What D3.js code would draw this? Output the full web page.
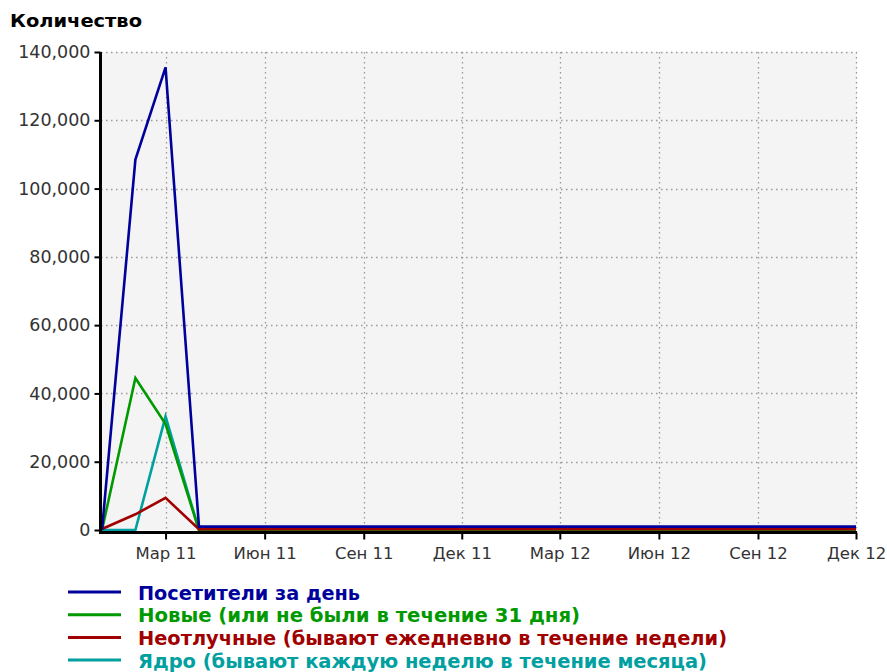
<!DOCTYPE html>
<html>
<head>
<meta charset="utf-8">
<script src="https://cdn.jsdelivr.net/npm/d3@7"></script>
<style>
  html, body { margin: 0; padding: 0; background: #fff; }
  svg { display: block; }
</style>
</head>
<body>
<svg id="chart" width="887" height="672"></svg>
<script>
// ---- data ----
const months = ["2011-01","2011-02","2011-03","2011-04","2011-05","2011-06","2011-07","2011-08","2011-09","2011-10","2011-11","2011-12",
                "2012-01","2012-02","2012-03","2012-04","2012-05","2012-06","2012-07","2012-08","2012-09","2012-10","2012-11","2012-12"];
const visitors = [0, 108500, 135500, 1000, 1000, 1000, 1000, 1000, 1000, 1000, 1000, 1000, 1000, 1000, 1000, 1000, 1000, 1000, 1000, 1000, 1000, 1000, 1000, 1000];
const newVisitors = [0, 44500, 31000, 0, 0, 0, 0, 0, 0, 0, 0, 0, 0, 0, 0, 0, 0, 0, 0, 0, 0, 0, 0, 0];
const loyal = [300, 4600, 9400, 250, 250, 250, 250, 250, 250, 250, 250, 250, 250, 250, 250, 250, 250, 250, 250, 250, 250, 250, 250, 250];
const core = [0, 0, 33300, 0, 0, 0, 0, 0, 0, 0, 0, 0, 0, 0, 0, 0, 0, 0, 0, 0, 0, 0, 0, 0];
const seriesNames = ["Посетители за день", "Новые (или не были в течение 31 дня)", "Неотлучные (бывают ежедневно в течение недели)", "Ядро (бывают каждую неделю в течение месяца)"];
const seriesColors = ["#00009c", "#009900", "#a00000", "#00a0a0"];
const yTicks = [0, 20000, 40000, 60000, 80000, 100000, 120000, 140000];
const xTickMonths = ["2011-03","2011-06","2011-09","2011-12","2012-03","2012-06","2012-09","2012-12"];
const monthNames = ["Янв","Фев","Мар","Апр","Май","Июн","Июл","Авг","Сен","Окт","Ноя","Дек"];
const yTitle = "Количество";

// ---- setup ----
(function () {
const svg = d3.select("#chart");
const parse = d3.timeParse("%Y-%m");
const dates = months.map(parse);
const pL = 101, pR = 857, pT = 52, pB = 530;

const x = d3.scaleTime().domain([parse("2011-01"), parse("2012-12")]).range([102, 856]);
const y = d3.scaleLinear().domain([0, 140000]).range([pB, pT]);

// plot background
svg.append("rect").attr("x", pL).attr("y", pT).attr("width", pR - pL).attr("height", pB - pT).attr("fill", "#f4f4f4");

// gridlines
const grid = svg.append("g").attr("stroke", "#999").attr("stroke-width", 1.3).attr("stroke-dasharray", "1.5,3.5");
grid.selectAll("line.h").data(yTicks.filter(d => d > 0)).join("line")
  .attr("x1", pL).attr("x2", pR).attr("y1", d => Math.round(y(d)) + 0.5).attr("y2", d => Math.round(y(d)) + 0.5);
grid.selectAll("line.v").data(xTickMonths.map(parse)).join("line")
  .attr("x1", d => Math.round(x(d)) + 0.5).attr("x2", d => Math.round(x(d)) + 0.5).attr("y1", pT).attr("y2", pB);

// lines
const allSeries = [visitors, newVisitors, loyal, core];
const drawOrder = [3, 1, 2, 0];
const line = d3.line().x((d, i) => x(dates[i])).y(d => y(d));
drawOrder.forEach(k => {
  svg.append("path").datum(allSeries[k]).attr("d", line)
    .attr("fill", "none").attr("stroke", seriesColors[k]).attr("stroke-width", 2.6)
    .attr("stroke-linejoin", "miter");
});

// y axis
const yAxis = svg.append("g").attr("transform", `translate(${pL - 0.5},0)`)
  .call(d3.axisLeft(y).tickValues(yTicks).tickSize(6).tickPadding(4).tickFormat(d3.format(",")));
yAxis.select(".domain").attr("stroke", "#000").attr("stroke-width", 3).attr("d", `M0,${pT}V${pB + 4}`);
yAxis.selectAll(".tick line").attr("stroke", "#000").attr("stroke-width", 2);
yAxis.selectAll(".tick text").attr("fill", "#333").style("font-family", "'DejaVu Sans', Verdana, sans-serif").style("font-size", "17.5px");

// x axis
const xAxis = svg.append("g").attr("transform", `translate(0,${pB + 2.5})`)
  .call(d3.axisBottom(x).tickValues(xTickMonths.map(parse)).tickSize(7).tickPadding(8)
    .tickFormat(d => monthNames[d.getMonth()] + " " + d3.timeFormat("%y")(d)));
xAxis.select(".domain").attr("stroke", "#000").attr("stroke-width", 3).attr("d", `M${pL - 2},0H${pR}`);
xAxis.selectAll(".tick line").attr("stroke", "#000").attr("stroke-width", 2);
xAxis.selectAll(".tick text").attr("fill", "#333").style("font-family", "'DejaVu Sans', Verdana, sans-serif").style("font-size", "16.5px");

// title
svg.append("text").attr("x", 10).attr("y", 27).text(yTitle)
  .attr("fill", "#000").style("font-family", "'DejaVu Sans Condensed', 'DejaVu Sans', sans-serif")
  .style("font-weight", "bold").style("font-size", "18px")
  .attr("textLength", 132).attr("lengthAdjust", "spacingAndGlyphs");

// legend
const legendWidths = [222, 442, 589, 569];
const legend = svg.append("g");
seriesNames.forEach((name, i) => {
  const ly = 592 + i * 22.7;
  legend.append("line").attr("x1", 68).attr("x2", 121).attr("y1", ly).attr("y2", ly)
    .attr("stroke", seriesColors[i]).attr("stroke-width", 3);
  legend.append("text").attr("x", 138).attr("y", ly + 7.5).text(name)
    .attr("fill", seriesColors[i])
    .style("font-family", "'DejaVu Sans Condensed', 'DejaVu Sans', sans-serif")
    .style("font-weight", "bold").style("font-size", "20px")
    .attr("textLength", legendWidths[i]).attr("lengthAdjust", "spacingAndGlyphs");
});
})();
</script>
</body>
</html>
